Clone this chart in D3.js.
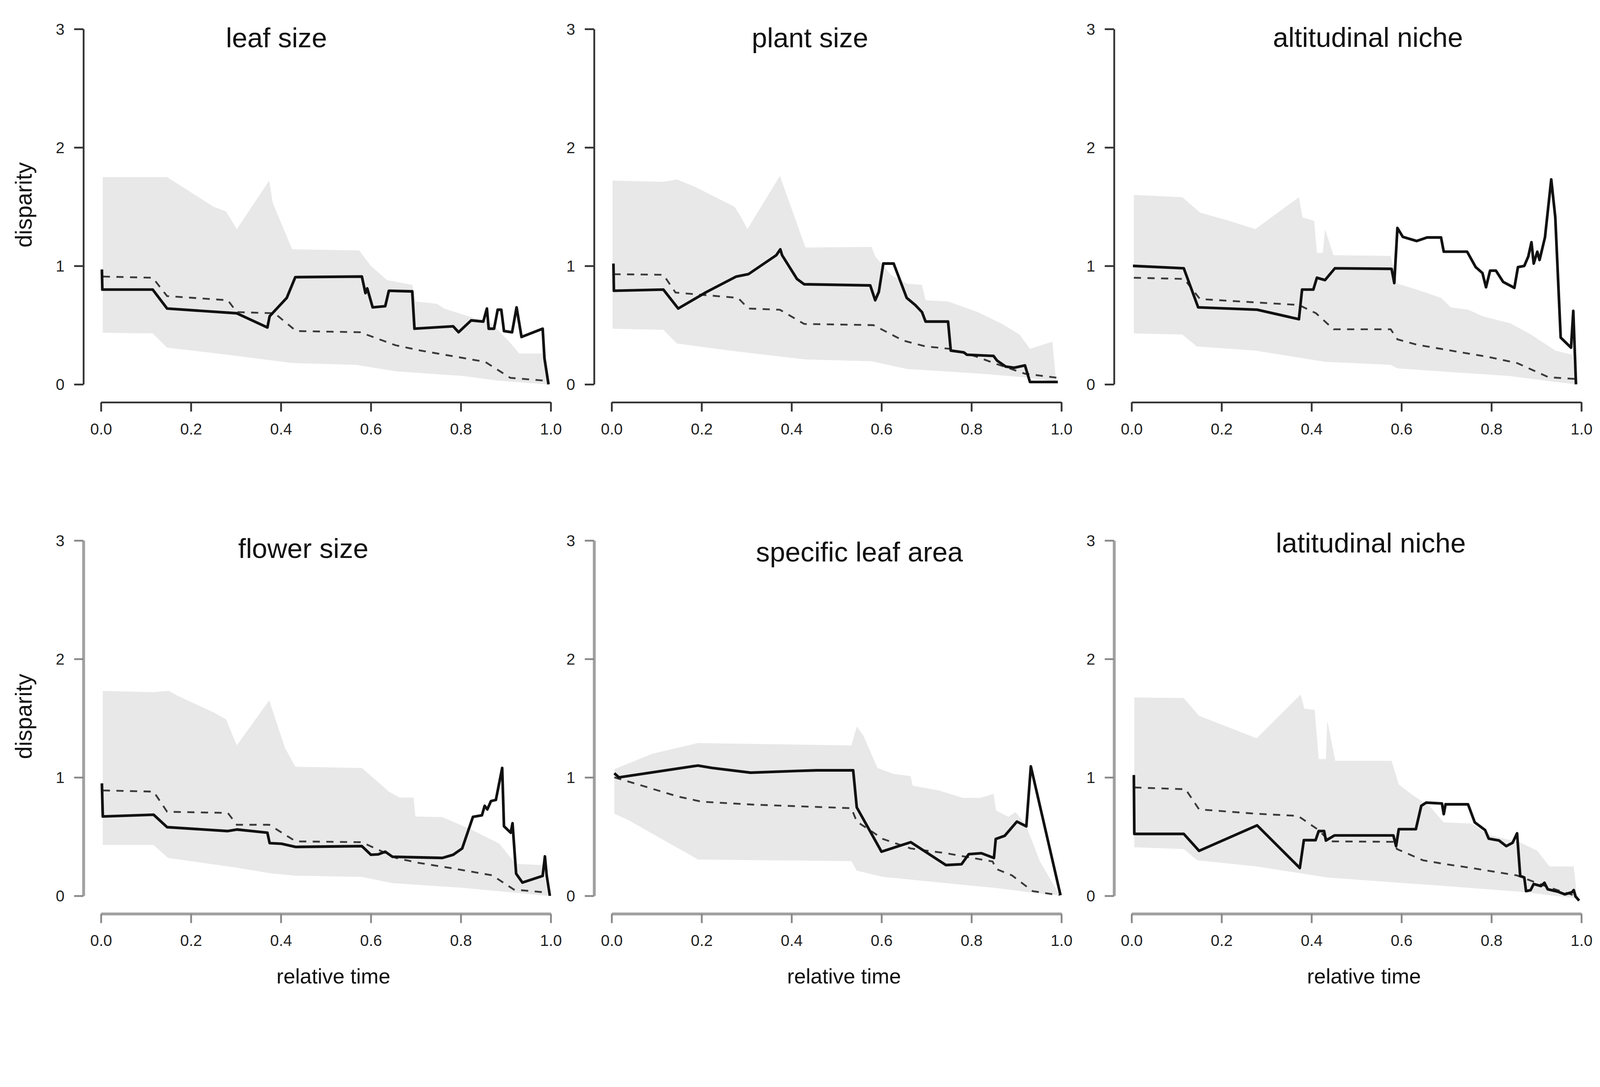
<!doctype html>
<meta charset="utf-8">
<title>disparity through time</title>
<script src="https://cdn.jsdelivr.net/npm/d3@7"></script>
<style>
html, body { margin: 0; padding: 0; background: #fff; overflow: hidden; }
svg { display: block; width: 100vw; height: 100vh; font-family: "Liberation Sans", Arial, sans-serif; }
</style>
<body>
<script>

// values: [relative time, disparity]
// obs = observed (solid), mean = simulated median (dashed), upper/lower = grey band

var leafObs = [[0.002,0.97],[0.003,0.80],[0.115,0.80],[0.147,0.64],[0.302,0.60],[0.370,0.48],[0.375,0.575],[0.413,0.73],[0.432,0.905],[0.580,0.91],[0.588,0.77],[0.592,0.81],[0.604,0.65],[0.632,0.66],[0.640,0.79],[0.692,0.785],[0.697,0.47],[0.783,0.49],[0.795,0.44],[0.823,0.54],[0.850,0.53],[0.858,0.64],[0.862,0.47],[0.874,0.47],[0.882,0.63],[0.890,0.63],[0.896,0.45],[0.914,0.44],[0.924,0.65],[0.935,0.40],[0.982,0.47],[0.986,0.22],[0.995,0]];
var leafMean = [[0.004,0.91],[0.115,0.90],[0.147,0.745],[0.282,0.71],[0.302,0.61],[0.386,0.60],[0.434,0.45],[0.576,0.44],[0.655,0.33],[0.711,0.285],[0.854,0.19],[0.910,0.055],[0.990,0.03]];
var leafUpper = [[0.004,1.75],[0.147,1.75],[0.250,1.50],[0.278,1.46],[0.302,1.31],[0.374,1.72],[0.382,1.53],[0.425,1.14],[0.574,1.13],[0.600,1.0],[0.636,0.88],[0.692,0.84],[0.700,0.70],[0.747,0.68],[0.763,0.64],[0.870,0.51],[0.910,0.35],[0.930,0.26],[0.982,0.26],[0.994,0]];
var leafLower = [[0.004,0.435],[0.115,0.43],[0.147,0.31],[0.282,0.25],[0.425,0.18],[0.567,0.165],[0.655,0.11],[0.807,0.07],[0.886,0.03],[0.994,0]];

var plantObs = [[0.004,1.02],[0.005,0.79],[0.115,0.80],[0.148,0.64],[0.211,0.78],[0.277,0.91],[0.304,0.93],[0.366,1.09],[0.375,1.14],[0.379,1.09],[0.412,0.89],[0.428,0.845],[0.575,0.835],[0.586,0.71],[0.594,0.78],[0.604,1.02],[0.627,1.02],[0.656,0.73],[0.675,0.67],[0.690,0.61],[0.698,0.53],[0.748,0.53],[0.754,0.285],[0.783,0.27],[0.790,0.25],[0.849,0.24],[0.857,0.20],[0.876,0.15],[0.895,0.14],[0.919,0.16],[0.930,0.02],[0.992,0.02]];
var plantMean = [[0.004,0.93],[0.115,0.925],[0.142,0.775],[0.281,0.73],[0.304,0.64],[0.374,0.63],[0.428,0.51],[0.582,0.50],[0.648,0.37],[0.698,0.32],[0.752,0.30],[0.810,0.235],[0.857,0.17],[0.919,0.09],[0.992,0.055]];
var plantUpper = [[0.002,1.72],[0.115,1.71],[0.145,1.73],[0.184,1.67],[0.273,1.50],[0.285,1.43],[0.302,1.31],[0.374,1.76],[0.431,1.155],[0.578,1.16],[0.586,1.08],[0.621,0.925],[0.656,0.85],[0.690,0.84],[0.698,0.71],[0.748,0.70],[0.814,0.61],[0.868,0.51],[0.907,0.42],[0.930,0.30],[0.980,0.36],[0.988,0.03]];
var plantLower = [[0.002,0.47],[0.115,0.46],[0.145,0.345],[0.273,0.28],[0.431,0.21],[0.578,0.195],[0.656,0.13],[0.822,0.09],[0.930,0.055],[0.988,0.02]];

var altObs = [[0.003,1.0],[0.116,0.98],[0.148,0.65],[0.279,0.63],[0.372,0.55],[0.379,0.80],[0.404,0.80],[0.412,0.90],[0.430,0.88],[0.452,0.98],[0.578,0.975],[0.584,0.855],[0.591,1.32],[0.603,1.245],[0.634,1.21],[0.657,1.24],[0.688,1.24],[0.694,1.12],[0.746,1.12],[0.765,0.99],[0.780,0.94],[0.788,0.82],[0.797,0.96],[0.810,0.96],[0.826,0.865],[0.851,0.815],[0.859,0.99],[0.873,1.0],[0.882,1.08],[0.889,1.20],[0.894,1.02],[0.902,1.12],[0.907,1.05],[0.919,1.24],[0.933,1.73],[0.942,1.41],[0.954,0.395],[0.977,0.31],[0.982,0.62],[0.988,0]];
var altMean = [[0.005,0.90],[0.117,0.89],[0.152,0.72],[0.372,0.67],[0.410,0.60],[0.449,0.465],[0.576,0.465],[0.591,0.38],[0.634,0.335],[0.710,0.285],[0.788,0.235],[0.857,0.18],[0.927,0.06],[0.988,0.045]];
var altUpper = [[0.005,1.60],[0.113,1.58],[0.152,1.45],[0.217,1.38],[0.275,1.31],[0.372,1.58],[0.380,1.41],[0.406,1.38],[0.412,1.11],[0.425,1.11],[0.430,1.31],[0.449,1.09],[0.576,1.085],[0.591,0.85],[0.634,0.80],[0.688,0.73],[0.710,0.65],[0.749,0.63],[0.780,0.575],[0.842,0.515],[0.888,0.42],[0.942,0.285],[0.980,0.25],[0.988,0]];
var altLower = [[0.005,0.43],[0.113,0.42],[0.145,0.32],[0.275,0.285],[0.430,0.19],[0.576,0.165],[0.591,0.135],[0.703,0.105],[0.842,0.07],[0.942,0.02],[0.988,0]];

var flowerObs = [[0.002,0.95],[0.004,0.67],[0.117,0.685],[0.147,0.58],[0.282,0.547],[0.302,0.56],[0.370,0.533],[0.375,0.445],[0.401,0.44],[0.433,0.413],[0.580,0.42],[0.600,0.347],[0.616,0.35],[0.632,0.373],[0.648,0.33],[0.759,0.32],[0.783,0.347],[0.803,0.40],[0.827,0.667],[0.847,0.68],[0.853,0.76],[0.859,0.73],[0.867,0.80],[0.878,0.81],[0.892,1.08],[0.896,0.587],[0.911,0.533],[0.915,0.613],[0.923,0.187],[0.937,0.112],[0.982,0.168],[0.987,0.333],[0.991,0.17],[0.998,0]];
var flowerMean = [[0.004,0.89],[0.117,0.88],[0.147,0.71],[0.282,0.70],[0.302,0.60],[0.374,0.60],[0.433,0.46],[0.580,0.453],[0.616,0.39],[0.656,0.32],[0.704,0.28],[0.790,0.227],[0.870,0.173],[0.918,0.053],[0.994,0.027]];
var flowerUpper = [[0.004,1.73],[0.115,1.72],[0.151,1.73],[0.170,1.69],[0.250,1.55],[0.278,1.49],[0.302,1.27],[0.374,1.65],[0.409,1.25],[0.432,1.09],[0.580,1.08],[0.640,0.88],[0.664,0.83],[0.695,0.83],[0.699,0.67],[0.759,0.665],[0.823,0.56],[0.886,0.44],[0.922,0.27],[0.982,0.26],[0.994,0]];
var flowerLower = [[0.004,0.43],[0.117,0.43],[0.149,0.32],[0.298,0.24],[0.378,0.19],[0.433,0.17],[0.580,0.16],[0.648,0.107],[0.807,0.067],[0.918,0.027],[0.994,0]];

var slaObs = [[0.006,1.035],[0.016,1.0],[0.192,1.10],[0.223,1.08],[0.309,1.04],[0.400,1.053],[0.456,1.06],[0.537,1.06],[0.545,0.747],[0.600,0.373],[0.622,0.40],[0.665,0.453],[0.743,0.26],[0.778,0.267],[0.794,0.352],[0.822,0.36],[0.850,0.32],[0.854,0.48],[0.874,0.507],[0.901,0.627],[0.922,0.587],[0.932,1.093],[0.998,0.005]];
var slaMean = [[0.006,1.0],[0.068,0.93],[0.146,0.84],[0.200,0.795],[0.316,0.77],[0.533,0.74],[0.545,0.627],[0.572,0.56],[0.603,0.48],[0.665,0.40],[0.743,0.36],[0.847,0.29],[0.855,0.227],[0.890,0.173],[0.936,0.04],[0.995,0.005]];
var slaUpper = [[0.006,1.07],[0.091,1.20],[0.192,1.29],[0.533,1.27],[0.545,1.43],[0.560,1.35],[0.591,1.08],[0.626,1.03],[0.665,1.01],[0.669,0.93],[0.727,0.89],[0.781,0.827],[0.820,0.827],[0.849,0.86],[0.855,0.72],[0.882,0.667],[0.898,0.707],[0.921,0.60],[0.952,0.293],[0.995,0.013]];
var slaLower = [[0.006,0.693],[0.037,0.64],[0.192,0.307],[0.533,0.293],[0.545,0.213],[0.603,0.16],[0.743,0.107],[0.853,0.067],[0.936,0.027],[0.995,0.005]];

var latObs = [[0.005,1.02],[0.006,0.523],[0.116,0.523],[0.150,0.38],[0.279,0.595],[0.374,0.235],[0.383,0.47],[0.409,0.47],[0.416,0.547],[0.428,0.547],[0.432,0.467],[0.451,0.51],[0.582,0.51],[0.588,0.42],[0.594,0.563],[0.632,0.563],[0.644,0.76],[0.655,0.787],[0.690,0.78],[0.694,0.69],[0.698,0.773],[0.748,0.773],[0.763,0.62],[0.786,0.555],[0.794,0.483],[0.817,0.467],[0.833,0.42],[0.847,0.448],[0.857,0.528],[0.864,0.168],[0.873,0.155],[0.877,0.04],[0.887,0.048],[0.894,0.10],[0.910,0.083],[0.918,0.11],[0.925,0.056],[0.948,0.035],[0.963,0.013],[0.979,0.03],[0.983,0.048],[0.987,-0.005],[0.995,-0.04]];
var latMean = [[0.006,0.915],[0.120,0.90],[0.150,0.73],[0.278,0.693],[0.370,0.675],[0.416,0.555],[0.440,0.46],[0.582,0.456],[0.590,0.395],[0.648,0.30],[0.694,0.27],[0.756,0.235],[0.856,0.173],[0.925,0.075],[0.991,-0.005]];
var latUpper = [[0.006,1.675],[0.116,1.67],[0.150,1.52],[0.278,1.33],[0.376,1.70],[0.384,1.58],[0.407,1.57],[0.416,1.155],[0.432,1.155],[0.435,1.48],[0.453,1.14],[0.578,1.14],[0.594,0.94],[0.625,0.85],[0.663,0.755],[0.694,0.62],[0.756,0.61],[0.794,0.515],[0.864,0.45],[0.902,0.38],[0.929,0.248],[0.983,0.248],[0.991,-0.03]];
var latLower = [[0.006,0.41],[0.116,0.395],[0.146,0.30],[0.278,0.248],[0.435,0.155],[0.578,0.115],[0.678,0.088],[0.864,0.035],[0.987,-0.02]];

var titles = ['leaf size', 'plant size', 'altitudinal niche', 'flower size', 'specific leaf area', 'latitudinal niche'];
var yTicks = [0, 1, 2, 3];
var xTicks = [0, 0.2, 0.4, 0.6, 0.8, 1.0];

var panels = [
  { obs: leafObs,   mean: leafMean,   upper: leafUpper,   lower: leafLower },
  { obs: plantObs,  mean: plantMean,  upper: plantUpper,  lower: plantLower },
  { obs: altObs,    mean: altMean,    upper: altUpper,    lower: altLower },
  { obs: flowerObs, mean: flowerMean, upper: flowerUpper, lower: flowerLower },
  { obs: slaObs,    mean: slaMean,    upper: slaUpper,    lower: slaLower },
  { obs: latObs,    mean: latMean,    upper: latUpper,    lower: latLower }
];

// layout, in the reference's own pixels (the svg scales to the window, pinned to the top)
var W = 4468, H = 2782
  , colX = [282, 1708, 3160]
  , rowTop = [81, 1509]
  , plotW = 1256
  , plotH = 992
  , titlePos = [[772,132],[2262,132],[3820,131],[847,1558],[2400,1567],[3828,1542]];

var svg = d3.select('body').append('svg')
  .attr('viewBox', '0 0 ' + W + ' ' + H)
  .attr('preserveAspectRatio', 'xMidYMin meet');

svg.append('rect').attr('width', W).attr('height', H).attr('fill', '#fff');

panels.forEach(function(p, i) {
  var row = Math.floor(i / 3), col = i % 3;
  var x0 = colX[col], top = rowTop[row];
  var x = d3.scaleLinear().domain([0, 1]).range([x0, x0 + plotW]);
  var y = d3.scaleLinear().domain([0, 3]).range([top + plotH, top]);
  var line = d3.line().x(function(d) { return x(d[0]) }).y(function(d) { return y(d[1]) });

  var g = svg.append('g');

  // grey band: upper edge forward, lower edge back
  var poly = p.upper.concat(p.lower.slice().reverse());
  g.append('path')
    .attr('d', line(poly) + 'Z')
    .attr('fill', '#e8e8e8');

  g.append('path')
    .attr('d', line(p.mean))
    .attr('fill', 'none')
    .attr('stroke', '#3a3a3a')
    .attr('stroke-width', 5)
    .attr('stroke-dasharray', '20,18');

  g.append('path')
    .attr('d', line(p.obs))
    .attr('fill', 'none')
    .attr('stroke', '#111')
    .attr('stroke-width', 7.5)
    .attr('stroke-linejoin', 'round');

  var axisCol = row === 0 ? '#333' : '#a0a0a0'
    , tickCol = row === 0 ? '#333' : '#888'
    , axisW = row === 0 ? 5 : 8;

  var ya = g.append('g')
    .attr('transform', 'translate(' + (x0 - 49) + ',0)')
    .call(d3.axisLeft(y).tickValues(yTicks).tickFormat(d3.format('d')).tickSize(26).tickSizeOuter(0));
  var xa = g.append('g')
    .attr('transform', 'translate(0,' + (top + plotH + 50) + ')')
    .call(d3.axisBottom(x).tickValues(xTicks).tickFormat(d3.format('.1f')).tickSize(26).tickSizeOuter(0));

  [ya, xa].forEach(function(a) {
    a.attr('font-family', null).attr('font-size', null);
    a.select('.domain').attr('stroke', axisCol).attr('stroke-width', axisW);
    a.selectAll('.tick line').attr('stroke', tickCol).attr('stroke-width', 5);
    a.selectAll('.tick text')
      .attr('fill', '#222')
      .style('font-size', '44px')
      .attr('text-anchor', 'middle');
  });
  ya.selectAll('.tick text').attr('x', -65).attr('dy', '0.35em');
  xa.selectAll('.tick text').attr('y', 75).attr('dy', '0.35em');

  g.append('text')
    .attr('x', titlePos[i][0]).attr('y', titlePos[i][1])
    .attr('text-anchor', 'middle')
    .style('font-size', '77px')
    .attr('fill', '#111')
    .text(titles[i]);

  if (col === 0) {
    g.append('text')
      .attr('transform', 'translate(88,' + (top + plotH * 0.495) + ') rotate(-90)')
      .attr('text-anchor', 'middle')
      .style('font-size', '64px')
      .attr('fill', '#111')
      .text('disparity');
  }
  if (row === 1) {
    g.append('text')
      .attr('x', x0 + plotW / 2 + 21).attr('y', 2746)
      .attr('text-anchor', 'middle')
      .style('font-size', '59px')
      .attr('fill', '#111')
      .text('relative time');
  }
});

</script>
</body>
